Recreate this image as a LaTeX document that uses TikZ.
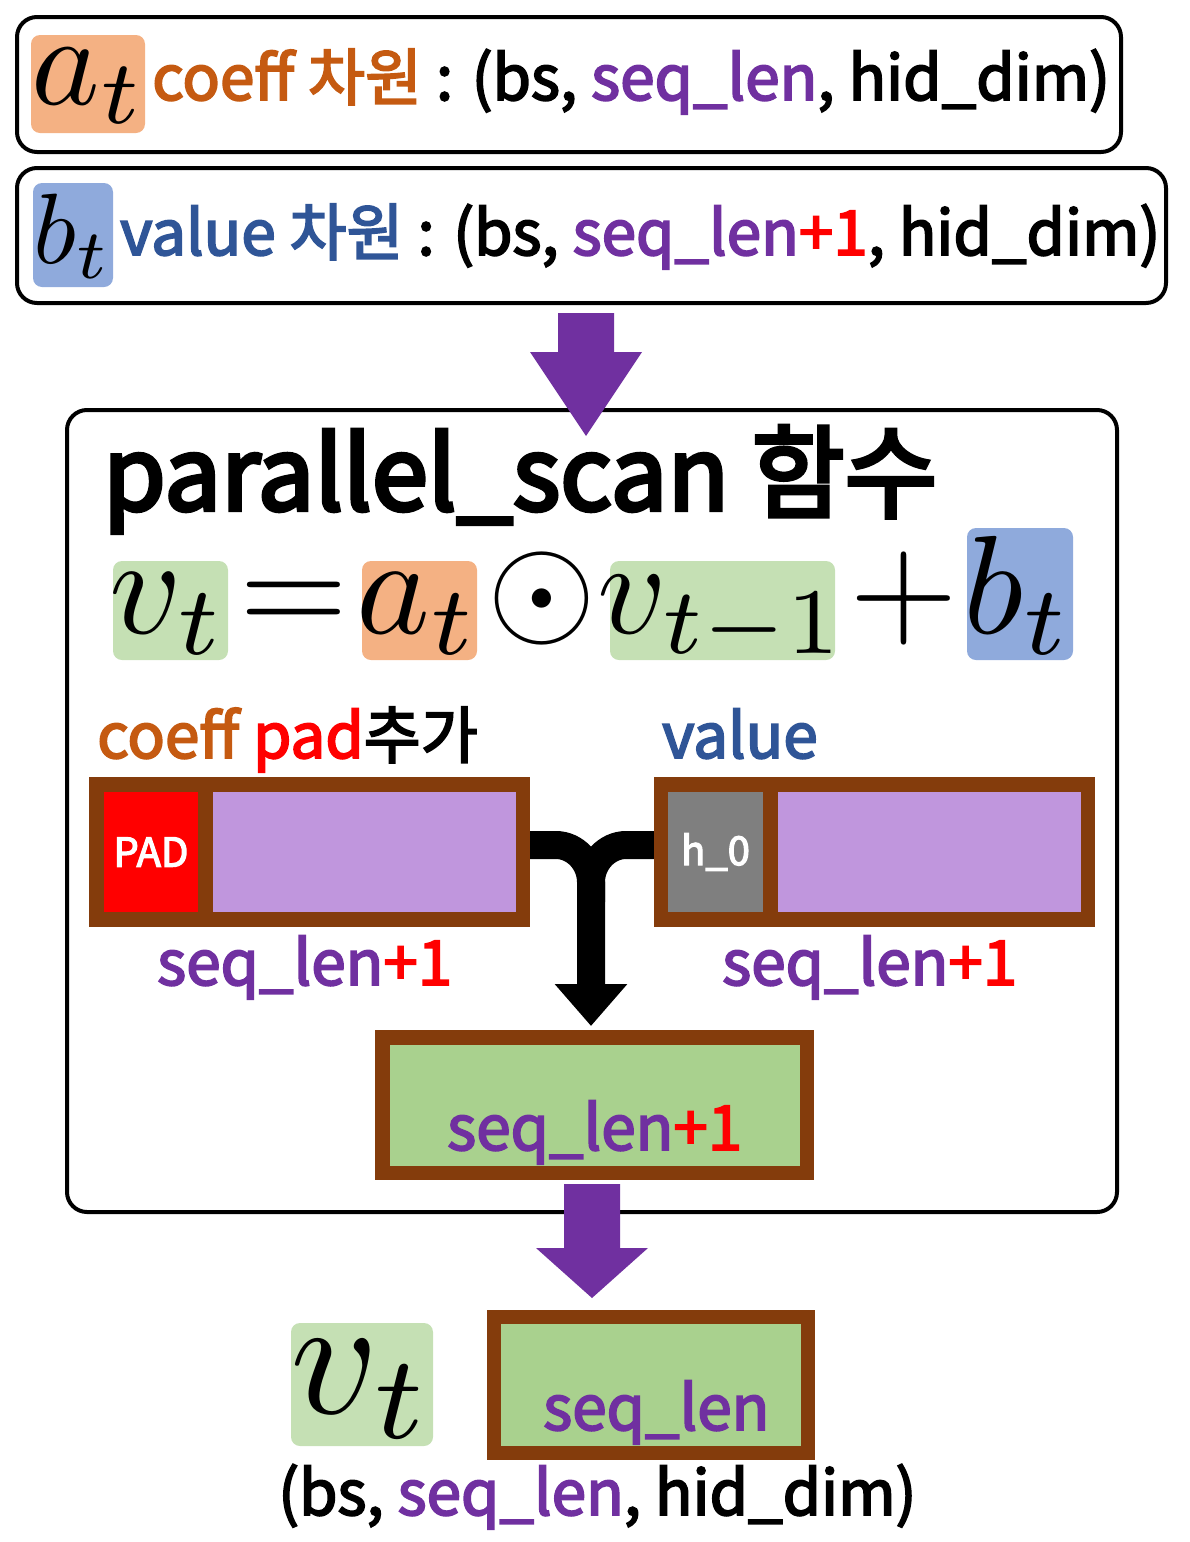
\documentclass[tikz,border=0pt]{standalone}
\usepackage[no-math]{fontspec}
\setmainfont{Noto Sans CJK KR}[FakeBold=3]
\newfontfamily\titlefont{Noto Sans CJK KR}[FakeBold=4]
\usetikzlibrary{arrows.meta,fit}
\definecolor{corange}{HTML}{C55A11}
\definecolor{cpurple}{HTML}{7030A0}
\definecolor{cblue}{HTML}{2F5597}
\definecolor{cred}{HTML}{FF0000}
\definecolor{cbrown}{HTML}{843C0C}
\definecolor{borange}{HTML}{F4B183}
\definecolor{bblue}{HTML}{8FAADC}
\definecolor{bgreen}{HTML}{C5E0B4}
\definecolor{gblock}{HTML}{A9D18E}
\definecolor{lav}{HTML}{C096DD}
\definecolor{cgray}{HTML}{7F7F7F}
\newcommand{\mybigmath}[2]{\scalebox{#1}{$#2$}}
\tikzset{
  rbox/.style={draw=black, line width=4pt, rounded corners=20pt, inner sep=0pt},
  badge/.style={rounded corners=9pt, inner sep=0pt},
  cell/.style={inner sep=0pt},
  txt/.style={inner sep=0pt, anchor=base west, font=\fontsize{62}{68}\selectfont},
  mth/.style={inner sep=0pt, anchor=base},
  parrow/.style={fill=cpurple},
  blk/.style={draw=black, line width=28pt}
}
\begin{document}
\begin{tikzpicture}[x=1pt,y=-1pt]
\useasboundingbox (0,0) rectangle (1190,1542);
% top boxes
\node[rbox, fit={(17,17) (1121,152)}] (box1) {};
\node[rbox, fit={(17,168) (1166,303)}] (box2) {};
\node[badge, fill=borange, fit={(31,35) (145,133)}] (abadge) {};
\node[mth] (amath) at (89,104) {\mybigmath{13}{a_t}};
\node[txt] (t1) at (152,100) {{\color{corange}coeff 차원} : (bs, {\color{cpurple}seq\_len}, hid\_dim)};
\node[badge, fill=bblue, fit={(33,183) (113,287)}] (bbadge) {};
\node[mth] (bmath) at (73,263) {\mybigmath{10}{b_t}};
\node[txt] (t2) at (120,255) {{\color{cblue}value 차원} : (bs, {\color{cpurple}seq\_len}{\color{cred}+1}, hid\_dim)};
% main box
\node[rbox, fit={(67,410) (1117,1212)}] (mainbox) {};
% arrow 1
\coordinate (a1) at (586,313);
\fill[parrow] (a1) ++(-28,0) -- ++(56,0) -- ++(0,39) -- ++(28,0) -- (586,436) -- (530,352) -- (558,352) -- cycle;
\node[txt, font=\titlefont\fontsize{101}{110}\selectfont] (title) at (103,510) {parallel\_scan 함수};
% equation
\node[badge, fill=bgreen, fit={(113,561) (228,660)}] (vb) {};
\node[badge, fill=borange, fit={(362,561) (477,660)}] (ab) {};
\node[badge, fill=bgreen, fit={(610,561) (835,660)}] (v1b) {};
\node[badge, fill=bblue, fit={(967,528) (1073,660)}] (bb) {};
\node[mth] (e1) at (168,633) {\mybigmath{14}{v_t}};
\node[mth] (e2) at (294,633) {\mybigmath{14}{=}};
\node[mth] (e3) at (418,633) {\mybigmath{14}{a_t}};
\node[mth] (e4) at (542,633) {\mybigmath{14}{\odot}};
\node[mth] (e5) at (722,633) {\mybigmath{13.4}{v_{t-1}}};
\node[mth] (e6) at (904,633) {\mybigmath{14}{+}};
\node[mth] (e7) at (1018,633) {\mybigmath{14}{b_t}};
% labels
\node[txt] (lc) at (97,758) {{\color{corange}coeff} {\color{cred}pad}추가};
\node[txt] (lv) at (662,758) {{\color{cblue}value}};
% blocks
\node[cell, fill=cbrown, fit={(89,777) (530,927)}] (lb) {};
\node[cell, fill=cred, fit={(104,792) (198,912)}] (pad) {};
\node[cell, fill=lav, fit={(213,792) (516,912)}] (lp) {};
\node[inner sep=0pt, text=white, font=\fontsize{40}{40}\selectfont] at (pad.center) {PAD};
\node[cell, fill=cbrown, fit={(654,777) (1095,927)}] (rb) {};
\node[cell, fill=cgray, fit={(668,792) (763,912)}] (h0) {};
\node[cell, fill=lav, fit={(778,792) (1081,912)}] (rp) {};
\node[inner sep=0pt, text=white, font=\fontsize{40}{40}\selectfont] at (h0.center) {h\_0};
\node[txt] (sl1) at (157,985) {{\color{cpurple}seq\_len}{\color{cred}+1}};
\node[txt] (sl2) at (722,985) {{\color{cpurple}seq\_len}{\color{cred}+1}};
% black connector
\coordinate (join) at (591,882);
\draw[blk] ([yshift=7pt]rb.west) -- (626,845) .. controls (607,845) and (591,862) .. (join) -- ++(0,20);
\draw[blk, -{Triangle[length=42pt,width=70pt]}] ([yshift=7pt]lb.east) -- (556,845) .. controls (575,845) and (591,862) .. (join) -- (591,1026);
% green block 1
\node[cell, fill=cbrown, fit={(375,1030) (814,1180)}] (g1) {};
\node[cell, fill=gblock, fit={(390,1045) (800,1166)}] (g1i) {};
\node[txt] (sl3) at (447,1150) {{\color{cpurple}seq\_len}{\color{cred}+1}};
% arrow 2
\coordinate (a2) at (592,1184);
\fill[parrow] (a2) ++(-28,0) -- ++(56,0) -- ++(0,64) -- ++(28,0) -- (592,1298) -- (536,1248) -- (564,1248) -- cycle;
% output
\node[badge, fill=bgreen, fit={(291,1323) (433,1446)}] (vob) {};
\node[mth] (vo) at (362,1413) {\mybigmath{17}{v_t}};
\node[cell, fill=cbrown, fit={(487,1310) (815,1460)}] (g2) {};
\node[cell, fill=gblock, fit={(501,1324) (801,1446)}] (g2i) {};
\node[txt] (sl4) at (543,1430) {{\color{cpurple}seq\_len}};
\node[txt] (bot) at (278,1515) {(bs, {\color{cpurple}seq\_len}, hid\_dim)};
\end{tikzpicture}
\end{document}
